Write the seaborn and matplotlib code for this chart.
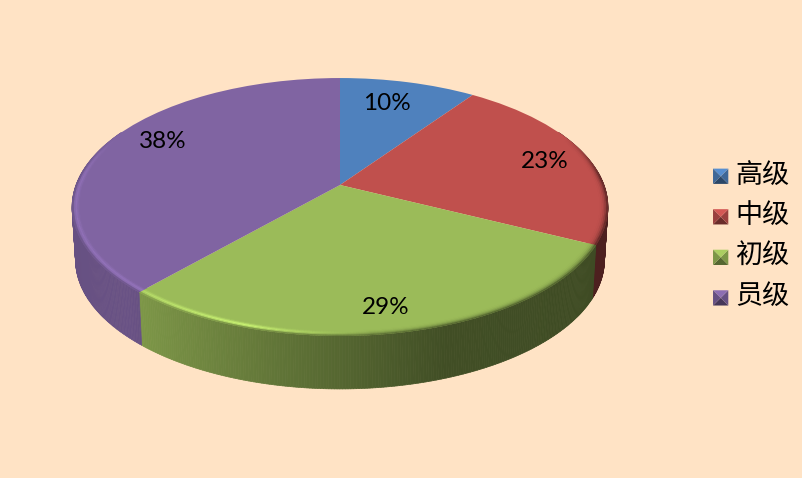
import numpy as np
import matplotlib
matplotlib.use("Agg")
import matplotlib.pyplot as plt
import seaborn as sns
from matplotlib.collections import PolyCollection
from matplotlib.legend_handler import HandlerBase
from matplotlib.patches import Patch, Polygon
from matplotlib.transforms import Transform

# data (the printed labels are rounded)
LEVELS = ["高级", "中级", "初级", "员级"]
SHARES = [9.7, 22.6, 29.2, 38.4]
COLORS = ["#4f81bd", "#c0504d", "#9bbb59", "#8064a2"]
LABEL_XY = [(387, 103), (545, 161), (386, 307), (163, 141)]

BG = "#ffe3c5"
DEPTH = 53


def project(u, v, z=0.0):
    # unit circle -> pixels, the perspective of the tilted pie
    w = 1 + 0.1705 * v
    x = 340 + 264 * u / w * (1 - 0.013 * z)
    y = 185 - 125.2 * v / w + DEPTH * z
    return np.column_stack([x, y])


class TiltTransform(Transform):
    input_dims = 2
    output_dims = 2

    def transform_non_affine(self, values):
        values = np.asarray(values)
        return project(values[:, 0], values[:, 1])


def wall_shade(u):
    return np.interp(u, [-1, -0.7, 0, 0.33, 1], [0.8, 0.82, 0.55, 0.42, 0.4])


def glow(u):
    return np.interp(u, [-1, -0.7, -0.3, 0.1], [0.18, 0.22, 0.45, 0])


sns.set_theme(style="white")
plt.rcParams["font.family"] = ["Lato", "Noto Sans CJK SC", "DejaVu Sans"]
palette = sns.color_palette(COLORS)

fig = plt.figure(figsize=(8.03, 4.78), dpi=100, facecolor=BG)
ax = fig.add_axes([0, 0, 1, 1])

wedges, _ = ax.pie(SHARES, colors=palette, startangle=90, counterclock=False,
                   wedgeprops={"linewidth": 0})
ax.set_aspect("auto")
ax.set_xlim(0, 803)
ax.set_ylim(478, 0)
ax.axis("off")

tilt = TiltTransform() + ax.transData
quads, quad_colors = [], []
ring, ring_colors = [], []
for wedge, base in zip(wedges, palette):
    base = np.array(base)
    n = max(int(2 * (wedge.theta2 - wedge.theta1)), 2)
    th = np.radians(np.linspace(wedge.theta1, wedge.theta2, n + 1))
    u, v = np.cos(th), np.sin(th)
    for i in range(n):
        um, vm = (u[i] + u[i + 1]) / 2, (v[i] + v[i + 1]) / 2
        if vm > 0.45:
            continue
        # side wall
        top = project(u[i:i + 2], v[i:i + 2])
        low = project(u[i:i + 2], v[i:i + 2], 1.0)
        quads.append(np.vstack([top, low[::-1]]))
        wall = base * wall_shade(um)
        quad_colors.append(wall)
        # soft bevel along the rim of the top face
        fade = np.clip((0.4 - vm) / 0.3, 0, 1)
        radii = np.linspace(0.965, 1.0, 7)
        for j in range(6):
            t = (j + 0.5) / 6
            outer = project(u[i:i + 2] * radii[j + 1], v[i:i + 2] * radii[j + 1])
            inner = project(u[i:i + 2] * radii[j], v[i:i + 2] * radii[j])
            ring.append(np.vstack([inner, outer[::-1]]))
            mixed = base + (wall - base) * t ** 3 * fade
            bump = np.sin(np.pi * t ** 1.6) ** 2 * glow(um) * fade
            ring_colors.append(np.clip(mixed * (1 + bump), 0, 1))

ax.add_collection(PolyCollection(quads, facecolors=quad_colors, edgecolors=quad_colors,
                                 linewidths=0.5, zorder=0.5))
for wedge in wedges:
    wedge.set_transform(tilt)
    wedge.set_zorder(1)
ax.add_collection(PolyCollection(ring, facecolors=ring_colors, edgecolors=ring_colors,
                                 linewidths=0.2, zorder=2))

for share, (x, y) in zip(SHARES, LABEL_XY):
    ax.text(x, y, f"{share:.0f}%", ha="center", va="center", fontsize=17.5,
            color="black", zorder=3)


class PyramidHandler(HandlerBase):
    # the little bevelled legend keys
    def create_artists(self, legend, orig_handle, xdescent, ydescent, width, height,
                       fontsize, trans):
        base = np.array(matplotlib.colors.to_rgb(orig_handle.get_facecolor()))
        s = 11
        x0 = width - s - xdescent
        y0 = (height - s) / 2 - ydescent - 2.2
        c = (x0 + s / 2, y0 + s / 2)
        corners = [(x0, y0), (x0 + s, y0), (x0 + s, y0 + s), (x0, y0 + s)]
        shades = [0.55, 0.8, 1.1, 0.8]
        out = []
        for k, shade in enumerate(shades):
            tri = [corners[k], corners[(k + 1) % 4], c]
            out.append(Polygon(tri, closed=True, facecolor=np.clip(base * shade, 0, 1),
                               edgecolor="none", transform=trans))
        return out


handles = [Patch(facecolor=c, label=l) for c, l in zip(palette, LEVELS)]
ax.legend(handles=handles, loc="center left", bbox_to_anchor=(713, 236),
          bbox_transform=ax.transData, frameon=False, labelcolor="black",
          prop={"family": ["Noto Sans CJK SC", "DejaVu Sans"], "size": 19.5},
          handler_map={Patch: PyramidHandler()}, handlelength=0.565,
          handletextpad=0.26, labelspacing=0.5, borderpad=0, borderaxespad=0)

fig.savefig("out.png", dpi=100, facecolor=BG)
